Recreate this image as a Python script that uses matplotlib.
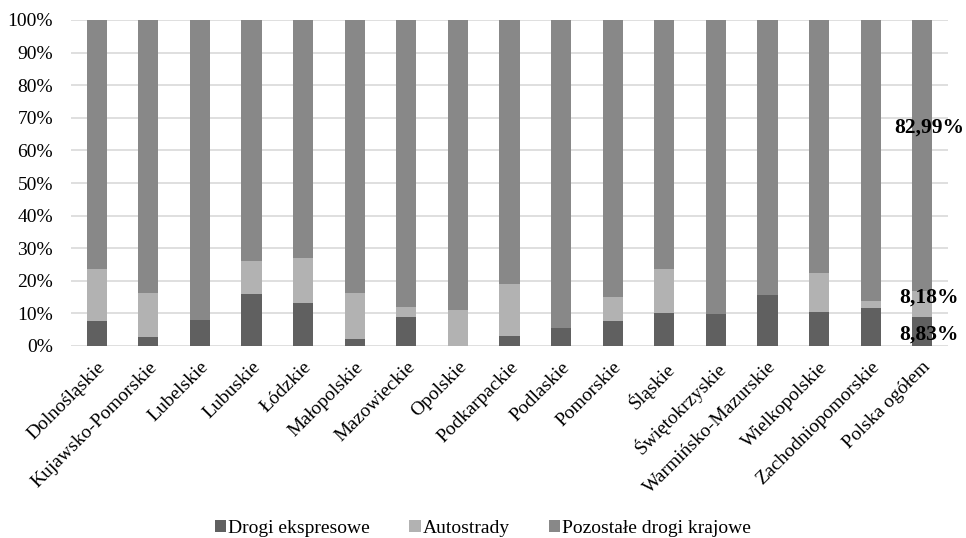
import matplotlib
matplotlib.use("Agg")
import matplotlib.pyplot as plt
import numpy as np

plt.rcParams['font.family'] = ['Liberation Serif', 'DejaVu Serif']

regions = ["Dolnośląskie", "Kujawsko-Pomorskie", "Lubelskie", "Lubuskie", "Łódzkie",
           "Małopolskie", "Mazowieckie", "Opolskie", "Podkarpackie", "Podlaskie",
           "Pomorskie", "Śląskie", "Świętokrzyskie", "Warmińsko-Mazurskie",
           "Wielkopolskie", "Zachodniopomorskie", "Polska ogółem"]

drogi_ekspresowe = [7.8, 2.9, 8.0, 16.0, 13.3, 2.3, 9.0, 0.0, 3.1, 5.6,
                    7.8, 10.2, 9.9, 15.7, 10.4, 11.7, 8.83]
autostrady = [15.8, 13.5, 0.0, 10.1, 13.8, 14.1, 3.1, 11.0, 15.9, 0.0,
              7.1, 13.5, 0.0, 0.0, 12.0, 2.2, 8.18]
pozostale = [100 - a - b for a, b in zip(drogi_ekspresowe, autostrady)]
pozostale[-1] = 82.99

series_names = ["Drogi ekspresowe", "Autostrady", "Pozostałe drogi krajowe"]
colors = ["#606060", "#b2b2b2", "#888888"]

fig = plt.figure(figsize=(9.66, 5.38), dpi=100)
ax = fig.add_axes([71 / 966, 1 - 346 / 538, 877 / 966, 326 / 538])

x = np.arange(len(regions))
w = 0.39
bottom = np.zeros(len(regions))
for vals, name, c in zip([drogi_ekspresowe, autostrady, pozostale], series_names, colors):
    ax.bar(x, vals, w, bottom=bottom, color=c, label=name, zorder=3)
    bottom += np.array(vals)

ax.set_xlim(-0.5, len(regions) - 0.5)
ax.set_ylim(0, 100)
ax.set_yticks(np.arange(0, 101, 10))
ax.set_yticklabels([f"{v}%" for v in range(0, 101, 10)], fontsize=14)
ax.yaxis.grid(True, color="#d9d9d9", linewidth=1.2, zorder=0)
ax.set_axisbelow(True)
for s in ax.spines.values():
    s.set_visible(False)
ax.tick_params(axis="both", length=0)
ax.tick_params(axis="y", pad=13)

ax.set_xticks(x)
ax.set_xticklabels(regions, rotation=45, ha="right", va="top",
                   rotation_mode="anchor", fontsize=14)
ax.tick_params(axis="x", pad=9)

# value labels for the national total
last = len(regions) - 1
lbl_kw = dict(ha="center", va="center", fontsize=15.5, fontweight="bold")
ax.text(last + 0.14, 67.0, f"{pozostale[-1]:.2f}%".replace(".", ","), **lbl_kw)
ax.text(last + 0.14, 14.7, f"{autostrady[-1]:.2f}%".replace(".", ","), **lbl_kw)
ax.text(last + 0.14, 3.4, f"{drogi_ekspresowe[-1]:.2f}%".replace(".", ","), **lbl_kw)

leg = fig.legend(loc="lower center", bbox_to_anchor=(0.5, -0.03), ncol=3,
                 frameon=False, fontsize=14, handlelength=0.6, handleheight=0.6,
                 handletextpad=0.1, columnspacing=2.0)

fig.savefig("out.png", dpi=100)
